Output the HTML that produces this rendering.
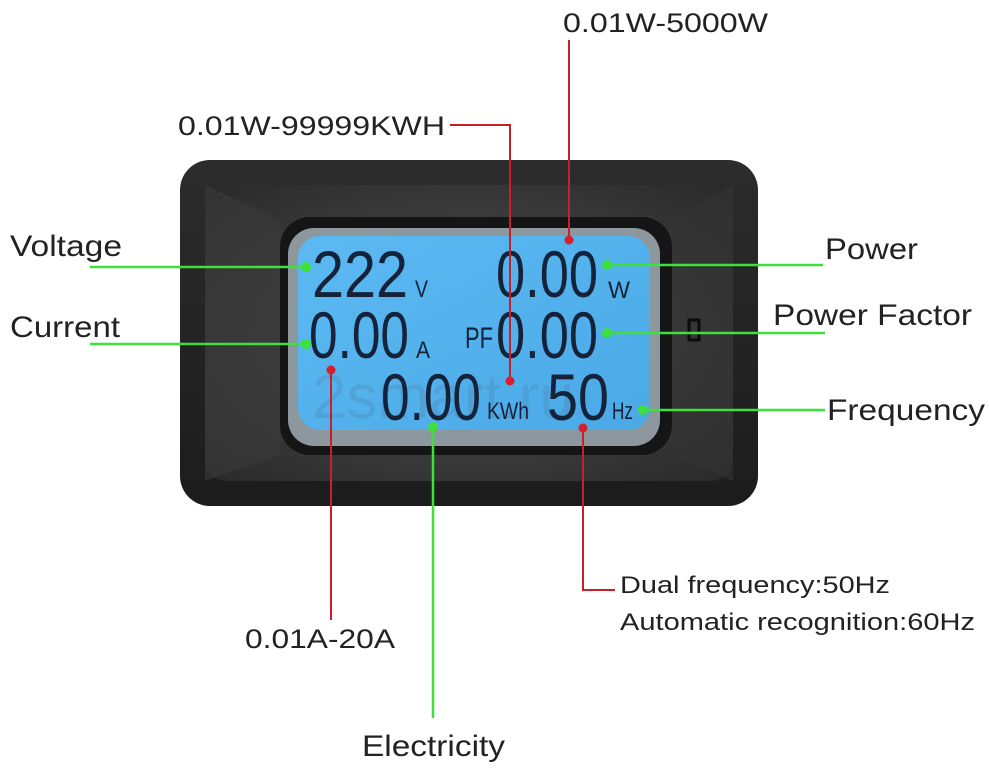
<!DOCTYPE html>
<html><head><meta charset="utf-8"><style>
html,body{margin:0;padding:0;background:#fff;}
svg{display:block;}
.lbl{font-family:"Liberation Sans",sans-serif;fill:#222;}
.dg{font-family:"Liberation Sans Narrow","Liberation Sans",sans-serif;fill:#15233a;}
</style></head><body>
<svg width="989" height="769" viewBox="0 0 989 769" xmlns="http://www.w3.org/2000/svg">
<defs>
<linearGradient id="body" x1="0" y1="0" x2="0" y2="1">
<stop offset="0" stop-color="#2c2c2c"/><stop offset="1" stop-color="#1c1c1c"/></linearGradient>
<radialGradient id="face" cx="0.5" cy="0.5" r="0.7">
<stop offset="0" stop-color="#505050"/><stop offset="1" stop-color="#2a2a2a"/></radialGradient>
<linearGradient id="lcd" x1="0" y1="0" x2="1" y2="1">
<stop offset="0" stop-color="#5cb9f2"/><stop offset="1" stop-color="#4aa9e6"/></linearGradient>
</defs>
<rect x="180" y="160" width="578" height="346" rx="30" fill="url(#body)"/>
<rect x="205" y="185" width="528" height="296" rx="22" fill="url(#face)"/>
<polygon points="205,185 280,220 280,455 205,481" fill="#3a3a3a" opacity="0.6"/>
<polygon points="733,185 672,220 672,455 733,481" fill="#333" opacity="0.6"/>
<rect x="280" y="217" width="392" height="238" rx="30" fill="#151515"/>
<rect x="288" y="228" width="372" height="218" rx="26" fill="#8d979e"/>
<rect x="298" y="236" width="352" height="194" rx="22" fill="url(#lcd)"/>
<rect x="689" y="320" width="10" height="20" fill="none" stroke="#0c0c0c" stroke-width="3"/>
<text x="312" y="418" font-family="Liberation Sans,sans-serif" font-size="62" fill="#4a6b8c" opacity="0.2">2smart.ru</text>
<text class="dg" x="312" y="297" font-size="66" textLength="96" lengthAdjust="spacingAndGlyphs">222</text>
<text class="dg" x="415" y="297" font-size="24" textLength="13" lengthAdjust="spacingAndGlyphs">V</text>
<text class="dg" x="496" y="297" font-size="66" textLength="102" lengthAdjust="spacingAndGlyphs">0.00</text>
<text class="dg" x="608" y="298" font-size="24" textLength="22" lengthAdjust="spacingAndGlyphs">W</text>
<text class="dg" x="309" y="358" font-size="66" textLength="100" lengthAdjust="spacingAndGlyphs">0.00</text>
<text class="dg" x="416" y="358" font-size="24" textLength="14" lengthAdjust="spacingAndGlyphs">A</text>
<text class="dg" x="465" y="348" font-size="30" textLength="28" lengthAdjust="spacingAndGlyphs">PF</text>
<text class="dg" x="496" y="358" font-size="66" textLength="102" lengthAdjust="spacingAndGlyphs">0.00</text>
<text class="dg" x="381" y="420" font-size="66" textLength="100" lengthAdjust="spacingAndGlyphs">0.00</text>
<text class="dg" x="487" y="419" font-size="24" textLength="42" lengthAdjust="spacingAndGlyphs">KWh</text>
<text class="dg" x="547" y="420" font-size="66" textLength="62" lengthAdjust="spacingAndGlyphs">50</text>
<text class="dg" x="612" y="419" font-size="24" textLength="21" lengthAdjust="spacingAndGlyphs">Hz</text>
<g stroke="#3ee03e" stroke-width="2.5" fill="none">
<line x1="90" y1="267" x2="305" y2="267"/>
<line x1="90" y1="344" x2="307" y2="344"/>
<line x1="608" y1="265" x2="823" y2="265"/>
<line x1="607" y1="333" x2="825" y2="333"/>
<line x1="643" y1="410" x2="825" y2="410"/>
<line x1="433" y1="427" x2="433" y2="718"/>
</g>
<g fill="#3ee03e">
<circle cx="306" cy="267" r="5"/><circle cx="306" cy="344" r="5"/>
<circle cx="607" cy="265" r="5"/><circle cx="607" cy="333" r="5"/>
<circle cx="643" cy="410" r="5"/><circle cx="433" cy="427" r="5"/>
</g>
<g stroke="#c8202a" stroke-width="2" fill="none">
<line x1="569" y1="40" x2="569" y2="240"/>
<polyline points="450,125 510,125 510,381"/>
<line x1="331" y1="370" x2="331" y2="620"/>
<polyline points="583,428 583,590 615,590"/>
</g>
<g fill="#d8202a">
<circle cx="569" cy="240" r="4.5"/><circle cx="510" cy="381" r="4.5"/>
<circle cx="331" cy="370" r="4.5"/><circle cx="583" cy="428" r="4.5"/>
</g>
<text class="lbl" x="10" y="256" font-size="30" textLength="112" lengthAdjust="spacingAndGlyphs">Voltage</text>
<text class="lbl" x="10" y="337" font-size="30" textLength="110" lengthAdjust="spacingAndGlyphs">Current</text>
<text class="lbl" x="825" y="259" font-size="30" textLength="93" lengthAdjust="spacingAndGlyphs">Power</text>
<text class="lbl" x="773" y="325" font-size="30" textLength="199" lengthAdjust="spacingAndGlyphs">Power Factor</text>
<text class="lbl" x="827" y="420" font-size="30" textLength="158" lengthAdjust="spacingAndGlyphs">Frequency</text>
<text class="lbl" x="563" y="32" font-size="27" textLength="205" lengthAdjust="spacingAndGlyphs">0.01W-5000W</text>
<text class="lbl" x="178" y="135" font-size="27" textLength="267" lengthAdjust="spacingAndGlyphs">0.01W-99999KWH</text>
<text class="lbl" x="245" y="648" font-size="27" textLength="150" lengthAdjust="spacingAndGlyphs">0.01A-20A</text>
<text class="lbl" x="362" y="756" font-size="30" textLength="143" lengthAdjust="spacingAndGlyphs">Electricity</text>
<text class="lbl" x="620" y="593" font-size="24" textLength="270" lengthAdjust="spacingAndGlyphs">Dual frequency:50Hz</text>
<text class="lbl" x="620" y="630" font-size="24" textLength="355" lengthAdjust="spacingAndGlyphs">Automatic recognition:60Hz</text>
</svg>
</body></html>
